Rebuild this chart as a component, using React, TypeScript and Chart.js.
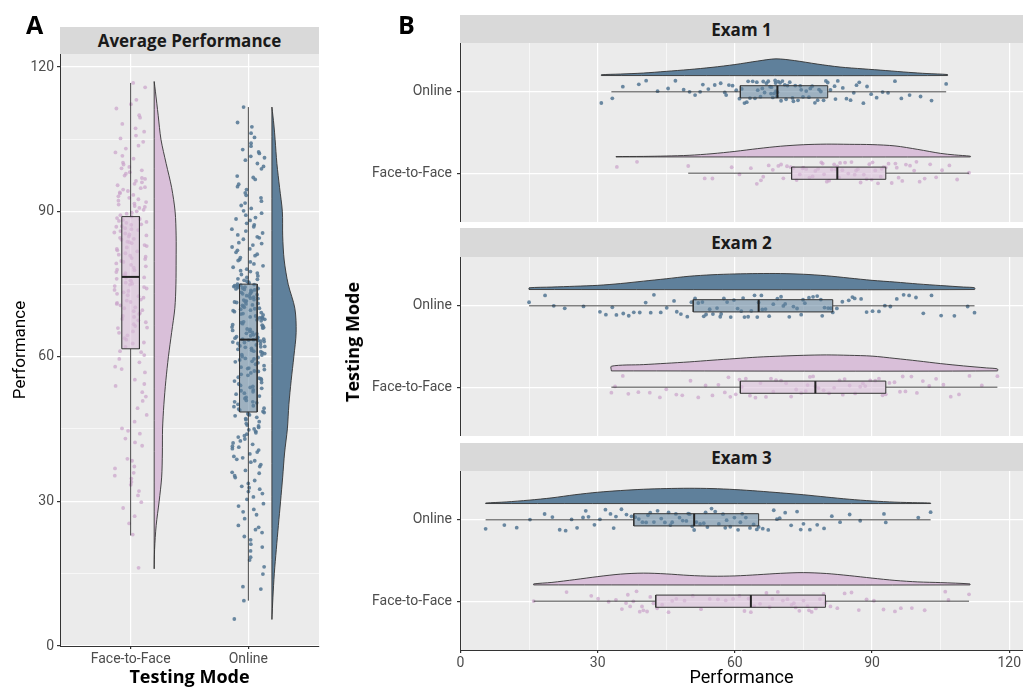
import React, { useEffect, useRef } from 'react';
import { Chart, registerables } from 'chart.js';
Chart.register(...registerables);
Chart.defaults.font.family = 'Roboto';
Chart.defaults.color = '#4D4D4D';

// ---------- categories & ticks ----------
const groups = ['Face-to-Face', 'Online'];
const groupTicks = [1, 2];
const perfTicks = [0, 15, 30, 45, 60, 75, 90, 105, 120];
const examTitles = ['Exam 1', 'Exam 2', 'Exam 3'];

// ---------- Panel A: average performance ----------
const avgF2F = [16.2, 23.1, 25.4, 28.6, 29.8, 32.1, 33.4, 34.0, 34.7, 35.3, 35.9, 37.2, 38.8, 41.5, 43.0, 44.6, 45.1, 47.9, 49.3, 50.8, 52.6, 53.9, 55.2, 56.7, 57.4, 58.8, 59.5, 60.3, 61.1,
  62.0, 62.7, 63.5, 64.4, 65.2, 65.9, 66.3, 67.1, 67.8, 68.4, 69.0, 69.6, 70.2, 70.9, 71.3, 71.8, 72.5, 73.0, 73.6, 74.1, 74.4, 74.9, 75.3, 75.8, 76.1, 76.4,
  76.8, 77.3, 77.9, 78.4, 79.0, 79.6, 80.2, 80.7, 81.1, 81.8, 82.3, 82.9, 83.5, 83.8, 84.4, 84.9, 85.3, 85.7, 86.2, 86.6, 87.0, 87.4, 87.9, 88.3, 88.7, 89.0,
  89.6, 90.1, 90.8, 91.2, 91.7, 92.3, 92.9, 93.5, 94.0, 94.6, 95.1, 95.8, 96.4, 97.0, 97.9, 98.6, 99.3, 100.2, 101.0, 102.3, 103.1, 104.5, 105.2, 106.6, 107.3, 110.0, 111.4, 113.2, 115.8, 116.7];
const avgF2FMore = [38.4, 42.2, 46.5, 51.7, 54.3, 57.9, 60.9, 62.9, 63.8, 64.9, 66.0, 66.7, 67.5, 68.2, 68.8, 69.4, 70.0, 70.6, 71.1, 71.6, 72.2, 72.7, 73.3, 73.8, 74.6, 75.1, 75.6, 76.3, 76.9, 77.5,
  78.0, 78.7, 79.3, 79.8, 80.4, 80.9, 81.4, 82.0, 82.6, 83.1, 83.7, 84.2, 84.6, 85.1, 85.5, 86.0, 86.4, 86.9, 87.3, 87.7, 88.1, 88.5, 89.3, 89.8, 90.4, 91.0, 91.5, 92.0, 92.6, 93.2,
  93.8, 94.3, 94.9, 95.5, 96.1, 96.8, 97.5, 98.2, 99.0, 99.8, 101.6, 103.7, 105.8, 108.2, 109.5, 112.3, 26.9, 31.2, 36.8, 44.0];
const avgOnline = [5.6, 9.4, 12.3, 14.9, 17.8, 18.4, 19.7, 21.1, 22.0, 22.7, 23.5, 24.6, 25.0, 27.2, 28.3, 29.5, 30.4, 31.6, 32.0, 32.8, 33.7, 34.9, 35.3, 36.4, 37.6, 38.1, 38.7, 39.8, 40.2, 40.9, 41.8, 42.1, 42.9, 43.3, 44.2, 44.5, 45.3, 45.8, 46.1, 46.9, 47.1, 47.7, 48.0, 48.2, 48.6,
  48.9, 49.3, 49.8, 50.4, 50.6, 51.3, 51.5, 52.2, 52.4, 53.1, 53.4, 53.8, 54.3, 54.6, 55.2, 55.4, 56.1, 56.3, 56.9, 57.0, 57.6, 57.8, 58.4, 58.7, 59.0, 59.5, 59.8, 60.3, 60.4, 60.8, 61.1, 61.5, 61.7, 62.0, 62.2, 62.6, 62.7, 63.0, 63.1, 63.3, 63.4, 63.5, 63.6, 63.6, 63.7,
  63.9, 64.1, 64.5, 64.8, 65.0, 65.4, 65.7, 65.9, 66.3, 66.6, 66.8, 67.2, 67.4, 67.7, 68.1, 68.2, 68.6, 68.9, 69.1, 69.5, 69.8, 70.0, 70.4, 70.6, 70.9, 71.2, 71.3, 71.7, 72.0, 72.3, 72.5, 72.8, 73.0, 73.2, 73.5, 73.7, 73.9, 74.0, 74.2, 74.4, 74.5, 74.7, 74.8, 74.9, 75.0,
  75.4, 75.8, 76.1, 76.7, 77.0, 77.6, 78.1, 78.5, 79.2, 79.6, 80.1, 80.9, 81.2, 82.0, 82.3, 83.1, 83.6, 84.3, 84.8, 85.6, 86.0, 86.9, 87.3, 88.2, 88.8, 89.7, 90.2, 91.3, 91.8, 92.9, 93.4, 94.6, 95.2, 96.7, 97.4, 98.9, 100.0, 100.7, 101.5, 102.1, 102.9, 104.2, 106.3, 108.5, 111.7];
const avgOnlineMore = [11.8, 16.4, 20.5, 24.1, 26.4, 29.0, 30.9, 33.1, 34.3, 36.0, 37.2, 39.3, 40.6, 41.4, 42.5, 43.9, 44.8, 45.6, 46.5, 47.4, 48.4, 49.1, 49.6, 50.1, 50.9, 51.8, 52.7, 53.6, 54.0, 54.9,
  55.7, 56.6, 57.3, 58.1, 58.9, 59.3, 60.0, 60.6, 61.3, 61.9, 62.4, 62.9, 63.2, 63.8, 64.3, 64.7, 65.2, 65.6, 66.0, 66.5, 67.0, 67.6, 67.9, 68.4, 68.8, 69.3, 69.6, 70.2, 70.7, 71.0,
  71.5, 71.8, 72.1, 72.6, 73.3, 73.8, 74.3, 74.6, 75.2, 75.6, 76.4, 77.3, 77.8, 78.8, 79.9, 80.5, 81.6, 82.7, 83.4, 84.6, 85.2, 86.4, 87.6, 88.5, 89.3, 90.7, 92.2, 93.9, 95.7, 97.1,
  99.4, 101.2, 102.4, 103.6, 105.4, 107.6, 27.8, 32.5, 35.8, 38.4, 39.0, 41.2, 43.6, 45.0, 47.9, 50.6, 52.9, 55.5, 57.5, 59.6, 61.0, 62.1, 64.0, 66.1, 68.0, 69.9, 71.4, 73.0, 74.1, 76.0];
// box stats: [lower whisker, Q1, median, Q3, upper whisker]
const avgBoxF2F = [22.9, 61.6, 76.5, 89.0, 116.7];
const avgBoxOnline = [9.4, 48.5, 63.5, 75.0, 111.7];
// density estimates (grid values and relative density)
const avgGridF2F = [16, 20, 25, 30, 35, 40, 45, 50, 55, 60, 65, 70, 75, 80, 85, 90, 95, 100, 105, 110, 115, 117];
const avgDensF2F = [0, 0.4, 2, 5, 7.5, 8.2, 8.4, 9.7, 11.7, 14.3, 17.5, 20.7, 21.8, 22, 22, 21, 17.5, 12, 6.8, 4, 1.2, 0];
const avgGridOnline = [5.5, 10, 15, 20, 25, 30, 35, 40, 45, 50, 55, 60, 65, 70, 75, 80, 85, 90, 95, 100, 105, 108, 111.7];
const avgDensOnline = [0, 1, 2.4, 4.4, 6.5, 8.7, 10.8, 12.7, 15.5, 17, 19.3, 22, 24.3, 23, 16.3, 12.3, 10.8, 10.5, 7.7, 5, 3.2, 2, 0];

// ---------- Panel B: exams ----------
const e1Online = [30.8, 33.2, 35.5, 39.0, 40.6, 43.1, 45.4, 47.0, 48.8, 50.1, 51.3, 53.0, 54.2, 55.6, 56.9, 57.8, 58.7, 59.5, 60.3, 61.0,
  61.5, 62.1, 62.6, 63.3, 63.9, 64.4, 65.0, 65.6, 66.0, 66.5, 66.9, 67.3, 67.7, 68.0, 68.3, 68.6, 68.9, 69.0, 69.2, 69.3,
  69.5, 69.9, 70.4, 70.9, 71.5, 72.0, 72.6, 73.2, 73.8, 74.3, 74.9, 75.6, 76.2, 76.9, 77.5, 78.1, 78.8, 79.4, 79.9, 80.3,
  80.9, 81.8, 82.5, 83.6, 84.4, 85.3, 86.0, 87.2, 88.1, 88.9, 89.8, 91.0, 92.3, 93.5, 95.0, 96.4, 98.2, 100.6, 103.0, 106.2,
  52.4, 58.1, 62.9, 64.8, 66.2, 67.9, 68.8, 70.1, 71.2, 72.8, 74.5, 76.5, 78.4, 82.0, 86.6];
const e1F2F = [34.2, 38.6, 49.8, 53.4, 55.1, 59.3, 61.0, 63.5, 64.8, 66.2, 67.4, 68.3, 69.5, 70.6, 71.4, 72.2,
  72.8, 73.5, 74.2, 75.0, 75.6, 76.3, 77.0, 77.6, 78.2, 78.9, 79.5, 80.1, 80.6, 81.2, 81.7, 82.1, 82.4,
  82.8, 83.5, 84.1, 84.8, 85.5, 86.2, 86.9, 87.5, 88.2, 88.8, 89.4, 90.1, 90.7, 91.3, 91.9, 92.5, 93.0,
  93.6, 94.3, 95.1, 95.8, 96.6, 97.4, 98.3, 99.2, 100.4, 101.5, 102.7, 104.0, 105.3, 106.9, 108.6, 111.2,
  65.7, 70.1, 74.8, 79.2, 83.0, 86.5, 89.9, 92.1, 95.4, 99.7];
const e2Online = [15.0, 18.5, 20.4, 22.8, 26.9, 30.5, 31.8, 33.2, 34.1, 35.6, 36.8, 37.9, 39.2, 40.5, 42.3, 43.8, 45.1, 46.7, 48.2, 49.6, 50.5,
  51.3, 52.0, 52.9, 53.7, 54.5, 55.2, 56.1, 56.8, 57.6, 58.3, 59.1, 59.8, 60.6, 61.4, 62.1, 62.9, 63.6, 64.3, 64.9, 65.2,
  65.8, 66.7, 67.5, 68.4, 69.3, 70.1, 71.0, 71.9, 72.8, 73.6, 74.5, 75.3, 76.2, 77.1, 78.0, 78.8, 79.6, 80.4, 81.0, 81.4,
  82.3, 83.5, 84.9, 86.2, 87.6, 88.8, 90.1, 91.5, 92.8, 94.0, 95.4, 96.9, 98.1, 99.6, 101.2, 103.0, 105.1, 108.0, 110.9, 112.4,
  41.6, 47.3, 53.2, 57.0, 61.8, 66.0, 70.6, 74.9, 79.1, 85.7];
const e2F2F = [33.0, 33.8, 35.5, 36.7, 38.9, 41.4, 43.6, 45.0, 47.2, 48.5, 50.3, 52.0, 53.6, 55.1, 56.4, 57.8, 59.0, 60.2, 61.0,
  61.5, 62.4, 63.3, 64.5, 65.6, 66.8, 67.9, 69.0, 70.1, 71.2, 72.3, 73.4, 74.5, 75.5, 76.4, 77.1, 77.6,
  78.3, 79.4, 80.6, 81.7, 82.9, 84.0, 85.1, 86.3, 87.4, 88.5, 89.6, 90.7, 91.5, 92.3, 93.0,
  93.8, 94.9, 96.1, 97.3, 98.6, 99.8, 101.1, 102.5, 104.0, 105.6, 107.2, 109.0, 111.3, 114.0, 117.4,
  58.6, 68.4, 75.9, 83.6, 88.0, 96.7];
const e3Online = [5.5, 9.6, 12.3, 15.2, 18.4, 20.1, 21.7, 23.0, 24.3, 25.5, 26.8, 28.0, 29.3, 30.5, 31.7, 32.8, 34.0, 35.2, 36.3, 37.4,
  38.2, 39.0, 39.8, 40.6, 41.5, 42.3, 43.1, 43.9, 44.7, 45.5, 46.3, 47.1, 47.9, 48.6, 49.4, 50.1, 50.7, 51.1,
  51.6, 52.4, 53.2, 54.0, 54.9, 55.7, 56.5, 57.4, 58.2, 59.0, 59.9, 60.7, 61.6, 62.4, 63.3, 64.1, 64.8, 65.2,
  66.1, 67.3, 68.5, 69.8, 71.0, 72.3, 73.6, 75.0, 76.4, 78.0, 79.5, 81.2, 83.0, 85.1, 87.4, 92.6, 93.0, 100.1, 102.8,
  27.4, 33.5, 41.0, 45.9, 49.8, 53.6, 57.9, 61.2, 69.2, 74.4];
const e3F2F = [16.0, 23.2, 28.6, 30.1, 32.4, 34.0, 35.3, 36.2, 37.1, 37.8, 38.5, 39.2, 40.0, 40.8, 41.5, 42.2,
  43.0, 44.1, 45.5, 47.2, 49.0, 50.8, 52.6, 54.5, 56.3, 58.0, 59.6, 61.0, 62.1, 63.0, 63.5,
  64.2, 65.5, 66.9, 68.2, 69.4, 70.5, 71.5, 72.4, 73.3, 74.1, 75.0, 75.9, 76.8, 77.7, 78.6, 79.4, 79.8,
  80.9, 82.4, 84.0, 85.5, 87.1, 88.8, 90.4, 92.5, 95.0, 96.3, 98.7, 101.5, 106.0, 106.7, 111.2,
  36.6, 39.7, 46.3, 67.6, 72.9, 76.2];
const e1BoxOnline = [33.0, 61.2, 69.3, 80.3, 106.2];
const e1BoxF2F = [49.8, 72.4, 82.4, 93.0, 111.2];
const e2BoxOnline = [15.0, 50.9, 65.2, 81.4, 112.4];
const e2BoxF2F = [33.0, 61.2, 77.6, 93.0, 117.4];
const e3BoxOnline = [5.5, 37.9, 51.1, 65.2, 102.8];
const e3BoxF2F = [16.0, 42.7, 63.5, 79.8, 111.2];
const e1GridOnline = [30.8, 35, 40, 45, 50, 55, 60, 65, 69, 73, 78, 83, 88, 93, 98, 102, 106.5];
const e1DensOnline = [0.8, 1.5, 2.5, 4.2, 6, 8.2, 11, 14.5, 16.7, 15, 11.5, 8.5, 6.7, 5, 3.2, 2, 1];
const e1GridF2F = [34, 40, 45, 50, 55, 60, 65, 70, 75, 80, 85, 90, 95, 100, 105, 108, 111.5];
const e1DensF2F = [0.3, 0.5, 0.9, 1.6, 3.2, 5.5, 8.3, 10.7, 12.2, 12.8, 12.6, 12.3, 11, 7.5, 3.5, 2, 0.7];
const e2GridOnline = [15, 20, 25, 30, 35, 40, 45, 50, 55, 60, 65, 70, 75, 80, 85, 90, 95, 100, 105, 110, 112.4];
const e2DensOnline = [1.7, 2.5, 3.3, 4.2, 6, 8.4, 10.8, 13.3, 14.8, 15.6, 16, 16, 15.3, 13.8, 11.5, 9.2, 7.5, 5.6, 4, 2.5, 1.8];
const e2GridF2F = [33, 40, 45, 50, 55, 60, 65, 70, 75, 80, 85, 90, 95, 100, 105, 110, 115, 117.4];
const e2DensF2F = [4.7, 6.3, 7.6, 9, 10.7, 12.3, 13.8, 14.8, 15.6, 16, 15.6, 14.8, 12.5, 10, 7.3, 5, 3, 2];
const e3GridOnline = [5.5, 10, 15, 20, 25, 30, 35, 40, 45, 50, 55, 60, 65, 70, 75, 80, 85, 90, 95, 100, 102.8];
const e3DensOnline = [0.5, 1.6, 3.4, 5.7, 8.8, 11.3, 13, 14.3, 15, 15.3, 15, 14, 12.5, 10.7, 8.8, 6.5, 4.3, 2.6, 1.4, 0.8, 0.5];
const e3GridF2F = [16, 20, 25, 30, 35, 40, 45, 50, 55, 60, 65, 70, 75, 80, 85, 90, 95, 100, 105, 111.4];
const e3DensF2F = [1, 2.5, 5.3, 8.3, 10.8, 11.8, 11, 9.5, 8.7, 9, 10.2, 11.6, 12.3, 11.4, 9.3, 6.8, 4.5, 3, 2.3, 1];

// ---------- styles ----------
const COL_ONLINE = '#5F809B';
const COL_F2F = '#D9BFD9';
const PT_ONLINE = 'rgba(82,118,147,0.85)';
const PT_F2F = 'rgba(203,164,202,0.72)';
const BOX_ONLINE = 'rgba(94,129,156,0.55)';
const BOX_F2F = 'rgba(217,190,217,0.6)';
const LINE = '#333333';
const PANEL = '#EBEBEB';
const STRIP = '#D9D9D9';
const VIOLIN_OFFSET = 0.2;
const BOX_HALF = 0.075;
const JITTER = 0.14;
const TICK_FONT = { size: 14 };

function jitter(i: number, seed: number) {
  const s = Math.sin((i + 1) * 12.9898 + seed * 78.233) * 43758.5453;
  return (s - Math.floor(s)) * 2 - 1;
}

interface Group { cat: number; pts: number[]; box: number[]; grid: number[]; dens: number[]; violin: string; point: string; boxFill: string; seed: number; }

function groupDatasets(g: Group, vertical: boolean, densScale: number): any[] {
  const P = (v: number, p: number) => (vertical ? { x: p, y: v } : { x: v, y: p });
  const base = g.cat + VIOLIN_OFFSET;
  const n = g.grid.length;
  const shape = [P(g.grid[0], base), P(g.grid[n - 1], base)];
  for (let i = n - 1; i >= 0; i--) shape.push(P(g.grid[i], base + g.dens[i] * densScale));
  shape.push(P(g.grid[0], base));
  const pts = g.pts.map((v, i) => P(v, g.cat + jitter(i, g.seed) * JITTER));
  const [lo, q1, med, q3, hi] = g.box;
  const w = BOX_HALF;
  const rect = [P(q1, g.cat - w), P(q3, g.cat - w), P(q3, g.cat + w), P(q1, g.cat + w), P(q1, g.cat - w)];
  const lineBase = { type: 'line', pointRadius: 0, fill: false, borderColor: LINE, tension: 0 };
  return [
    { ...lineBase, data: shape, fill: 'shape', backgroundColor: g.violin, borderWidth: 0.9, tension: 0.3, order: 4 },
    { type: 'scatter', data: pts, pointRadius: 1.9, backgroundColor: g.point, borderWidth: 0, order: 3 },
    { ...lineBase, data: [P(lo, g.cat), P(q1, g.cat)], borderWidth: 0.9, order: 2 },
    { ...lineBase, data: [P(q3, g.cat), P(hi, g.cat)], borderWidth: 0.9, order: 2 },
    { ...lineBase, data: rect, fill: 'shape', backgroundColor: g.boxFill, borderWidth: 1, order: 1 },
    { ...lineBase, data: [P(med, g.cat - w), P(med, g.cat + w)], borderColor: '#222222', borderWidth: 2, order: 0 },
  ];
}

const panelBg = {
  id: 'panelBg',
  beforeDraw(chart: any) {
    const { ctx, chartArea: a } = chart;
    ctx.save();
    ctx.fillStyle = PANEL;
    ctx.fillRect(a.left, a.top, a.right - a.left, a.bottom - a.top);
    ctx.restore();
  },
};

const perfGrid = {
  color: '#FFFFFF',
  lineWidth: (c: any) => (c.tick && c.tick.value % 30 === 0 ? 1.2 : 0.6),
  tickLength: 3,
  tickColor: (c: any) => (c.tick && c.tick.value % 30 === 0 ? LINE : 'rgba(0,0,0,0)'),
};
const perfLabel = (v: any) => (Number(v) % 30 === 0 ? String(v) : '');
const catLabel = (v: any) => groups[Number(v) - 1];

function configA(): any {
  const datasets = [
    ...groupDatasets({ cat: 1, pts: [...avgF2F, ...avgF2FMore], box: avgBoxF2F, grid: avgGridF2F, dens: avgDensF2F, violin: COL_F2F, point: PT_F2F, boxFill: BOX_F2F, seed: 1 }, true, 1 / 118),
    ...groupDatasets({ cat: 2, pts: [...avgOnline, ...avgOnlineMore], box: avgBoxOnline, grid: avgGridOnline, dens: avgDensOnline, violin: COL_ONLINE, point: PT_ONLINE, boxFill: BOX_ONLINE, seed: 2 }, true, 1 / 118),
  ];
  return {
    type: 'scatter',
    data: { datasets },
    plugins: [panelBg],
    options: {
      responsive: false, animation: false, events: [],
      layout: { autoPadding: false, padding: { top: 54, right: 21, left: 0, bottom: 0 } },
      plugins: { legend: { display: false }, tooltip: { enabled: false } },
      scales: {
        x: {
          type: 'linear', min: 0.4, max: 2.6,
          afterBuildTicks: (s: any) => { s.ticks = groupTicks.map((v) => ({ value: v })); },
          afterFit: (s: any) => { s.height = 43; s.paddingLeft = 0; s.paddingRight = 0; },
          ticks: { callback: catLabel, font: TICK_FONT, color: '#4D4D4D', padding: 2, maxRotation: 0, autoSkip: false },
          grid: { color: '#FFFFFF', lineWidth: 1.2, tickLength: 3, tickColor: LINE },
          border: { display: true, color: LINE, width: 1 },
          title: { display: true, text: 'Testing Mode', font: { family: 'Open Sans', size: 18, weight: 'bold' }, color: '#000000', padding: 0 },
        },
        y: {
          type: 'linear', min: 0, max: 122.7,
          afterBuildTicks: (s: any) => { s.ticks = perfTicks.map((v) => ({ value: v })); },
          afterFit: (s: any) => { s.width = 60; s.paddingTop = 0; s.paddingBottom = 0; },
          ticks: { callback: perfLabel, font: TICK_FONT, color: '#4D4D4D', padding: 3, autoSkip: false },
          grid: perfGrid,
          border: { display: true, color: LINE, width: 1 },
          title: { display: true, text: 'Performance', font: { size: 17 }, color: '#000000', padding: { top: 11, bottom: 0 } },
        },
      },
    },
  };
}

const examPoints = [[e1F2F, e1Online], [e2F2F, e2Online], [e3F2F, e3Online]];
const examBoxes = [[e1BoxF2F, e1BoxOnline], [e2BoxF2F, e2BoxOnline], [e3BoxF2F, e3BoxOnline]];
const examGrids = [[e1GridF2F, e1GridOnline], [e2GridF2F, e2GridOnline], [e3GridF2F, e3GridOnline]];
const examDens = [[e1DensF2F, e1DensOnline], [e2DensF2F, e2DensOnline], [e3DensF2F, e3DensOnline]];

function configB(k: number, padTop: number, last: boolean): any {
  const s = 1 / 81.4;
  const datasets = [
    ...groupDatasets({ cat: 1, pts: examPoints[k][0], box: examBoxes[k][0], grid: examGrids[k][0], dens: examDens[k][0], violin: COL_F2F, point: PT_F2F, boxFill: BOX_F2F, seed: 10 + k * 2 }, false, s),
    ...groupDatasets({ cat: 2, pts: examPoints[k][1], box: examBoxes[k][1], grid: examGrids[k][1], dens: examDens[k][1], violin: COL_ONLINE, point: PT_ONLINE, boxFill: BOX_ONLINE, seed: 11 + k * 2 }, false, s),
  ];
  return {
    type: 'scatter',
    data: { datasets },
    plugins: [panelBg],
    options: {
      responsive: false, animation: false, events: [],
      layout: { autoPadding: false, padding: { top: padTop, right: 0, left: 0, bottom: 0 } },
      plugins: { legend: { display: false }, tooltip: { enabled: false } },
      scales: {
        x: {
          type: 'linear', min: -0.1, max: 123,
          afterBuildTicks: (sc: any) => { sc.ticks = perfTicks.map((v) => ({ value: v })); },
          afterFit: (sc: any) => { sc.height = last ? 39 : 0; sc.paddingLeft = 0; sc.paddingRight = 0; },
          ticks: { display: last, callback: perfLabel, font: TICK_FONT, color: '#4D4D4D', padding: 2, maxRotation: 0, autoSkip: false },
          grid: { ...perfGrid, drawTicks: last },
          border: { display: last, color: LINE, width: 1 },
          title: { display: last, text: 'Performance', font: { size: 18 }, color: '#000000', padding: 0 },
        },
        y: {
          type: 'linear', min: 0.4, max: 2.6,
          afterBuildTicks: (sc: any) => { sc.ticks = groupTicks.map((v) => ({ value: v })); },
          afterFit: (sc: any) => { sc.width = 120; sc.paddingTop = 0; sc.paddingBottom = 0; },
          ticks: { callback: catLabel, font: TICK_FONT, color: '#4D4D4D', padding: 5, autoSkip: false },
          grid: { color: '#FFFFFF', lineWidth: 1.2, tickLength: 3, tickColor: LINE },
          border: { display: true, color: LINE, width: 1 },
        },
      },
    },
  };
}

const stripStyle = (left: number, top: number, width: number, height: number): React.CSSProperties => ({
  position: 'absolute', left, top, width, height, background: STRIP, display: 'flex', alignItems: 'center', justifyContent: 'center',
  fontFamily: 'Open Sans', fontWeight: 700, fontSize: 17, color: '#1A1A1A', lineHeight: 1,
});

export default function App() {
  const refA = useRef<HTMLCanvasElement>(null);
  const refB1 = useRef<HTMLCanvasElement>(null);
  const refB2 = useRef<HTMLCanvasElement>(null);
  const refB3 = useRef<HTMLCanvasElement>(null);
  useEffect(() => {
    const charts: Chart[] = [];
    if (refA.current) charts.push(new Chart(refA.current, configA()));
    if (refB1.current) charts.push(new Chart(refB1.current, configB(0, 43, false)));
    if (refB2.current) charts.push(new Chart(refB2.current, configB(1, 35, false)));
    if (refB3.current) charts.push(new Chart(refB3.current, configB(2, 35, true)));
    return () => charts.forEach((c) => c.destroy());
  }, []);
  return (
    <div style={{ position: 'absolute', left: 0, top: 0, width: 1023, height: 689, background: '#FFFFFF', overflow: 'hidden' }}>
      <canvas ref={refA} width={340} height={689} style={{ position: 'absolute', left: 0, top: 0 }} />
      <canvas ref={refB1} width={683} height={222} style={{ position: 'absolute', left: 340, top: 0 }} />
      <canvas ref={refB2} width={683} height={214} style={{ position: 'absolute', left: 340, top: 222 }} />
      <canvas ref={refB3} width={683} height={253} style={{ position: 'absolute', left: 340, top: 436 }} />
      <div style={stripStyle(60, 27, 259, 27)}>Average Performance</div>
      <div style={stripStyle(460, 15, 563, 28)}>{examTitles[0]}</div>
      <div style={stripStyle(460, 228, 563, 29)}>{examTitles[1]}</div>
      <div style={stripStyle(460, 443, 563, 28)}>{examTitles[2]}</div>
      <div style={{ position: 'absolute', left: 26, top: 12, fontFamily: 'Open Sans', fontWeight: 700, fontSize: 25, lineHeight: 1, color: '#000' }}>A</div>
      <div style={{ position: 'absolute', left: 398, top: 12, fontFamily: 'Open Sans', fontWeight: 700, fontSize: 25, lineHeight: 1, color: '#000' }}>B</div>
      <div style={{ position: 'absolute', left: 352, top: 342, transform: 'translate(-50%, -50%) rotate(-90deg)', whiteSpace: 'nowrap', fontFamily: 'Open Sans', fontWeight: 700, fontSize: 18, lineHeight: 1, color: '#000' }}>Testing Mode</div>
    </div>
  );
}
